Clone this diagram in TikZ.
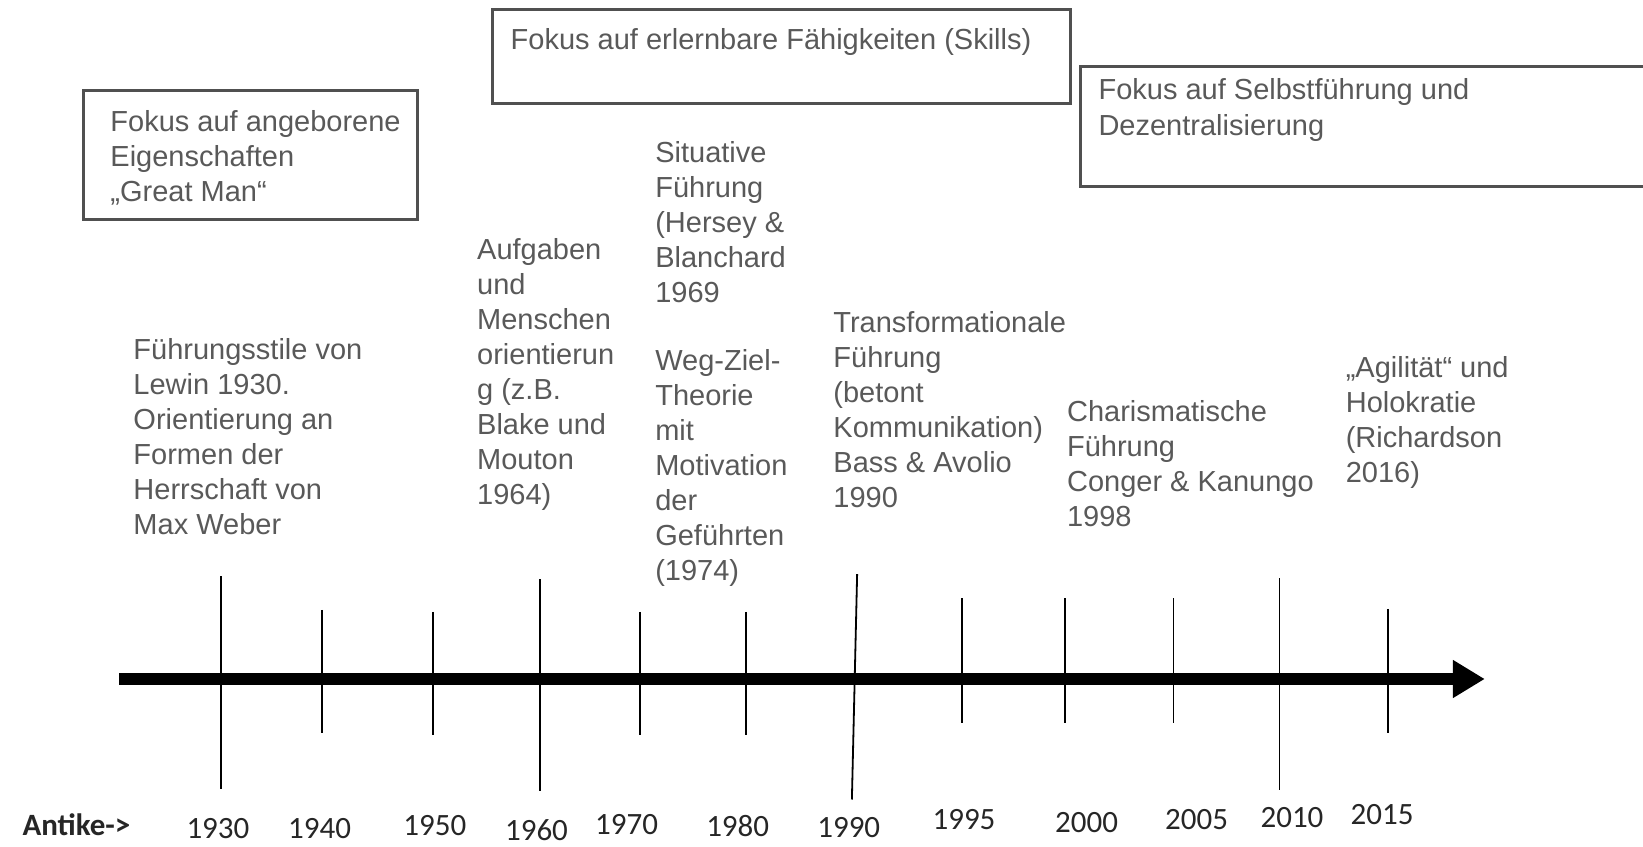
\documentclass[tikz,border=0pt]{standalone}
\usepackage{fontspec}
\setmainfont{Liberation Sans}
\newfontfamily\yearfont{Carlito}
\usepackage{tikz}
\usetikzlibrary{arrows.meta}
\definecolor{txtgray}{RGB}{89,89,89}
\definecolor{boxgray}{RGB}{80,80,80}

\begin{document}
\begin{tikzpicture}[x=0.5239pt,y=-0.5239pt]
\tikzset{era/.style={draw=boxgray,line width=1.5pt,anchor=north west,inner sep=0pt},
  lbl/.style={anchor=north west,align=left,inner sep=0pt,text=txtgray,font=\fontsize{14.5}{17.5}\selectfont},
  year/.style={inner sep=0pt,text=black!85,font=\yearfont\fontsize{15.5}{17}\selectfont},
  tick/.style={line width=0.9pt},
  axis/.style={line width=6pt,-{Triangle[length=16pt,width=18pt]}}}
\useasboundingbox (0,0) rectangle (1568,808.3);
% Phasen
\node[era,minimum width=167.1pt,minimum height=64.4pt] (boxA) at (78,85) {};
\node[era,minimum width=288.7pt,minimum height=46.6pt] (boxB) at (469,8) {};
\node[era,minimum width=325pt,minimum height=60.2pt] (boxC) at (1030,62) {};
\node[lbl] (eraA) at ([shift={(27,20)}]boxA.north west) {Fokus auf angeborene\\Eigenschaften\\„Great Man“};
\node[lbl] (eraB) at ([shift={(18,19)}]boxB.north west) {Fokus auf erlernbare Fähigkeiten (Skills)};
\node[lbl] (eraC) at ([shift={(18,13)}]boxC.north west) {Fokus auf Selbstführung und\\Dezentralisierung};
% Ansaetze
\node[lbl] (lewin) at (127,323) {Führungsstile von\\Lewin 1930.\\Orientierung an\\Formen der\\Herrschaft von\\Max Weber};
\node[lbl] (aufgaben) at (455,227) {Aufgaben\\und\\Menschen\\orientierun\\g (z.B.\\Blake und\\Mouton\\1964)};
\node[lbl] (situativ) at (625,135) {Situative\\Führung\\(Hersey \&\\Blanchard\\1969};
\node[lbl] (wegziel) at (625,333) {Weg-Ziel-\\Theorie\\mit\\Motivation\\der\\Geführten\\(1974)};
\node[lbl] (transform) at (795,297) {Transformationale\\Führung\\(betont\\Kommunikation)\\Bass \& Avolio\\1990};
\node[lbl] (charisma) at (1018,382) {Charismatische\\Führung\\Conger \& Kanungo\\1998};
\node[lbl] (agil) at (1284,340) {„Agilität“ und\\Holokratie\\(Richardson\\2016)};
% Zeitstrahl
\coordinate (start) at (114,648);
\coordinate (end) at (1417,648);
\draw[axis] (start) -- (end);
\foreach \n/\xt/\t/\xb/\b in {1930/211/550/211/753,1940/307/582/307/700,1950/413/584/413/701,1960/515/553/515/755,1970/611/584/611/701,1980/712/584/712/701,1990/818/548/813/763,1995/918/571/918/690,2000/1016/571/1016/690,2005/1120/571/1120/690,2010/1221/552/1221/754,2015/1325/581/1325/700}
  {\coordinate (t\n) at (\xt,\t); \coordinate (b\n) at (\xb,\b); \draw[tick] (t\n) -- (b\n);}
\node[year,font=\yearfont\bfseries\fontsize{15.5}{17}\selectfont] (antike) at (73,787) {Antike->};
\foreach \n/\x/\y in {1930/208/791,1940/305/791,1950/415/788,1960/512/792,1970/598/787,1980/704/788,1990/810/790,1995/920/782,2000/1037/785,2005/1142/782,2010/1233/780,2015/1319/777}
  \node[year] (y\n) at (\x,\y) {\n};
\end{tikzpicture}
\end{document}
